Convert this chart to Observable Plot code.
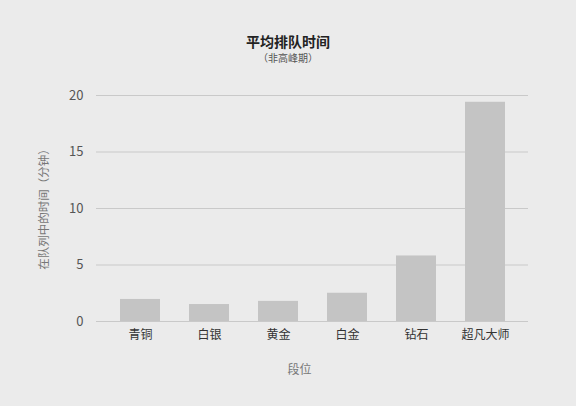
<!DOCTYPE html>
<html><head><meta charset="utf-8">
<script src="https://cdn.jsdelivr.net/npm/d3@7"></script>
<script src="https://cdn.jsdelivr.net/npm/@observablehq/plot@0.6"></script>
<style>
body{margin:0;background:#ebebeb;font-family:"Noto Sans CJK SC",sans-serif;width:576px;height:406px;overflow:hidden}
#t{padding-top:33px;height:16px;text-align:center;font-size:14px;font-weight:bold;line-height:16px;color:#222}
#s{margin-top:3px;height:12px;text-align:center;font-size:10px;line-height:12px;color:#555}
#c svg{display:block;background:#ebebeb}
</style></head><body>
<div id="t">平均排队时间</div><div id="s">（非高峰期）</div>
<div id="c"></div>
<script>
const tiers = ["青铜", "白银", "黄金", "白金", "钻石", "超凡大师"];
const minutes = [1.95, 1.5, 1.78, 2.5, 5.8, 19.4];
const yTicks = [0, 5, 10, 15, 20];
const xTitle = "段位";
const yTitle = "在队列中的时间（分钟）";

const data = tiers.map((t, i) => ({tier: t, value: minutes[i]}));

const chart = Plot.plot({
  width: 576,
  height: 342,
  marginLeft: 96,
  marginRight: 48,
  marginTop: 31,
  marginBottom: 85,
  style: {fontFamily: '"Noto Sans CJK SC", sans-serif', background: "#ebebeb"},
  x: {type: "band", domain: tiers, paddingInner: 0.424, paddingOuter: 0.32, label: null},
  y: {domain: [0, 20], ticks: yTicks, label: null},
  marks: [
    Plot.ruleY(yTicks, {stroke: "#c9c9c9", strokeWidth: 1}),
    Plot.barY(data, {x: "tier", y: "value", fill: "#c4c4c4"}),
    Plot.axisX({tickSize: 0, tickPadding: 9, fontSize: 12, fill: "#333", label: null}),
    Plot.axisY({ticks: yTicks, tickSize: 0, tickPadding: 13, fontSize: 13, fill: "#555", label: null}),
    Plot.text([xTitle], {frameAnchor: "bottom", dy: 49, dx: -13, lineAnchor: "middle", fontSize: 12, fill: "#777"}),
    Plot.text([yTitle], {frameAnchor: "left", dx: -52, dy: -2, rotate: -90, textAnchor: "middle", lineAnchor: "middle", fontSize: 11.5, fill: "#777"})
  ]
});
document.getElementById("c").appendChild(chart);
</script>
</body></html>
